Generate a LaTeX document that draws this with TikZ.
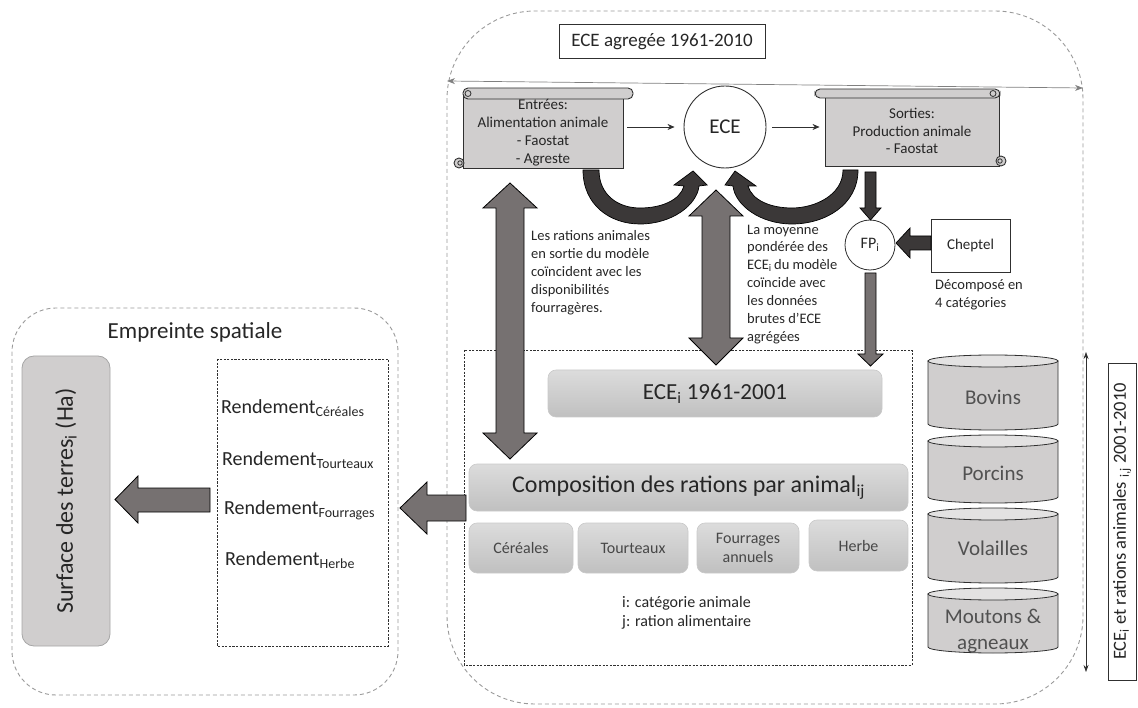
\documentclass[tikz,border=0pt]{standalone}
\usepackage{fontspec}
\setmainfont{Carlito}
\usetikzlibrary{arrows.meta}
\definecolor{scrollgray}{HTML}{D0CECE}
\definecolor{darkarrow}{HTML}{3B3838}
\definecolor{midarrow}{HTML}{767171}
\definecolor{txt}{HTML}{262626}
\definecolor{boxtop}{HTML}{DCDCDC}
\definecolor{boxbot}{HTML}{C0C0C0}
\definecolor{dashgray}{HTML}{9A9A9A}
\definecolor{lineblack}{HTML}{303030}
\tikzset{
  region/.style={draw=dashgray, line width=0.9pt, dash pattern=on 4pt off 3pt},
  innerdash/.style={draw=lineblack, line width=0.8pt, dash pattern=on 2.2pt off 1.4pt},
  scrollbody/.style={fill=scrollgray, draw=lineblack, line width=0.9pt, inner sep=0pt},
  scrolltext/.style={inner sep=0pt, align=center, text=txt, font=\fontsize{15}{17.8}\selectfont},
  scrollpart/.style={fill=scrollgray, draw=lineblack, line width=0.9pt},
  darkblock/.style={fill=darkarrow, draw=black, line width=0.7pt},
  midblock/.style={fill=midarrow, draw=black, line width=0.8pt},
  thinarrow/.style={draw=lineblack, line width=0.6pt, -{Stealth[length=7pt,width=6pt]}},
  graybox/.style={rounded corners=8pt, top color=boxtop, bottom color=boxbot, draw=boxbot!85!white, line width=0.6pt, inner sep=0pt, text=txt},
  smallbox/.style={graybox, font=\fontsize{16}{19}\selectfont, align=center, text=txt!85!white},
  annot/.style={inner sep=0pt, align=left, text=txt, font=\fontsize{14.5}{17.9}\selectfont},
  rend/.style={inner sep=0pt, text=txt, font=\fontsize{20}{24}\selectfont},
  cyl/.style={fill=scrollgray, draw=lineblack, line width=0.8pt},
  cyltop/.style={fill=scrollgray!60!white, draw=lineblack, line width=0.8pt},
  cyltext/.style={text=txt!80!white, font=\fontsize{21}{25}\selectfont, align=center, inner sep=0pt},
}
\begin{document}
\begin{tikzpicture}[x=1pt,y=-1pt]
\useasboundingbox (0,0) rectangle (1138,708);

% regions
\draw[region, rounded corners=88pt] (447,11) rectangle (1083,704);
\draw[region, rounded corners=44pt] (12,308) rectangle (398,695);
\node[text=txt, font=\fontsize{23}{27}\selectfont] (emp) at (195,332) {Empreinte spatiale};

% aggregated title
\node[draw=lineblack, line width=1pt, minimum width=206pt, minimum height=34pt, inner sep=0pt, text=txt, font=\fontsize{19}{23}\selectfont] (agg) at (662,42) {ECE agregée 1961-2010};

% top double arrow
\coordinate (tl) at (447,81);
\coordinate (tr) at (1083,88);
\draw[draw=gray, line width=0.7pt, {Stealth[length=8pt,width=6pt]}-{Stealth[length=8pt,width=6pt]}] (tl) -- (tr);

% Entrées scroll
\node[scrollbody, minimum width=160pt, minimum height=75pt] (entrees) at (543,130.5) {};
\filldraw[scrollpart, rounded corners=5pt] (463,88) rectangle (633,99);
\draw[lineblack, line width=0.8pt] (468,93.5) circle[radius=3pt];
\filldraw[scrollpart] (459,163) circle[radius=5pt];
\draw[lineblack, line width=0.8pt] (460,163) circle[radius=2.2pt];
\node[scrolltext] (entreestxt) at (543,132.5) {Entrées:\\Alimentation animale\\- Faostat\\- Agreste};

% Sorties scroll
\node[scrollbody, minimum width=174pt, minimum height=73pt] (sorties) at (912,129.5) {};
\filldraw[scrollpart, rounded corners=5pt] (815,89) rectangle (1000,98);
\draw[lineblack, line width=0.8pt] (993,93.5) circle[radius=3pt];
\filldraw[scrollpart] (1001,161) circle[radius=5pt];
\draw[lineblack, line width=0.8pt] (1000,161) circle[radius=2.2pt];
\node[scrolltext] (sortiestxt) at (912,131) {Sorties:\\Production animale\\- Faostat};

% ECE circle
\node[circle, draw=lineblack, line width=0.9pt, minimum size=82pt, inner sep=0pt, text=txt, font=\fontsize{21}{25}\selectfont] (ece) at (725,127) {ECE};
\draw[thinarrow, shorten <=4pt, shorten >=9pt] (entrees.east |- ece.west) -- (ece.west);
\draw[thinarrow, shorten <=6pt, shorten >=5pt] (ece.east) -- (sorties.west |- ece.east);

% curved arrows
\filldraw[darkblock] (583,170) .. controls (583,205) and (610,224) .. (640,224) .. controls (672,224) and (697,205) .. (699,186) -- (707,185) -- (693,171) -- (674,185) -- (684,186) .. controls (680,200) and (662,208) .. (640,208) .. controls (618,208) and (599,195) .. (599,170) -- cycle;
\filldraw[darkblock] (858,170) .. controls (858,205) and (825,224) .. (792,224) .. controls (760,224) and (735,205) .. (733,186) -- (725,185) -- (735,171) -- (756,186) -- (748,186) .. controls (752,200) and (770,208) .. (792,208) .. controls (815,208) and (843,195) .. (843,170) -- cycle;

% FP and Cheptel
\node[circle, draw=lineblack, line width=0.8pt, minimum size=50pt, inner sep=0pt, text=txt, font=\fontsize{16}{19}\selectfont] (fp) at (870,245) {FP\textsubscript{i}};
\node[draw=lineblack, line width=0.8pt, minimum width=79pt, minimum height=53pt, inner sep=0pt, text=txt, font=\fontsize{15}{18}\selectfont] (cheptel) at (970.5,245.5) {Cheptel\hspace{12pt}};
\node[annot, anchor=north west] (decomp) at (935,279.5) {Décomposé en\\4 catégories};

\filldraw[darkblock] (865,172) -- (876,172) -- (876,208) -- (881,208) -- (870.5,220) -- (860,208) -- (865,208) -- cycle;
\filldraw[darkblock] (931,236) -- (910,236) -- (910,228) -- (896,243) -- (910,258) -- (910,250) -- (931,250) -- cycle;

% annotations
\node[annot, anchor=north west] (ration) at (531,230.5) {Les rations animales\\en sortie du modèle\\coïncident avec les\\disponibilités\\fourragères.};
\node[annot, anchor=north west] (moy) at (747,224.5) {La moyenne\\pondérée des\\ECE\textsubscript{i}\,du modèle\\coïncide avec\\les données\\brutes d’ECE\\agrégées};

% inner dashed rect
\draw[innerdash] (464,350) rectangle (912,665);
\node[graybox, minimum width=334pt, minimum height=47pt, font=\fontsize{23}{27}\selectfont] (ecei) at (715,393.5) {ECE\textsubscript{i} 1961-2001};
\node[graybox, minimum width=439pt, minimum height=47pt, font=\fontsize{24}{28}\selectfont] (compo) at (688.5,487.5) {Composition des rations par animal\textsubscript{ij}};
\node[smallbox, minimum width=104pt, minimum height=50pt] (cer) at (521,548) {Céréales};
\node[smallbox, minimum width=110pt, minimum height=50pt] (tou) at (633,548) {Tourteaux};
\node[smallbox, minimum width=102pt, minimum height=50pt] (fou) at (748,548) {Fourrages\\annuels};
\node[smallbox, minimum width=99pt, minimum height=51pt] (her) at (858.5,545.5) {Herbe};
\node[inner sep=0pt, align=left, text=txt, font=\fontsize{16}{19.2}\selectfont, anchor=north west] (ij) at (622,596) {i: catégorie animale\\j: ration alimentaire};

% block arrows (gray)
\filldraw[midblock] (865,273) -- (876,273) -- (876,354) -- (883,354) -- (870.5,366) -- (858,354) -- (865,354) -- cycle;
\filldraw[midblock] (496,208) -- (483,208) -- (510,183) -- (537,208) -- (524,208) -- (524,433) -- (537,433) -- (510,459) -- (483,433) -- (496,433) -- cycle;
\filldraw[midblock] (702,216) -- (689,216) -- (716,190) -- (743,216) -- (730,216) -- (730,338) -- (743,338) -- (716,365) -- (689,338) -- (702,338) -- cycle;
\filldraw[midblock] (466,495) -- (427,495) -- (427,482) -- (400,508) -- (427,534) -- (427,521) -- (466,521) -- cycle;

% left part
\node[fill=scrollgray, draw=gray!70, line width=0.8pt, rounded corners=12pt, rotate=90, minimum width=290pt, minimum height=88pt, inner sep=0pt, text=txt, font=\fontsize{24}{28}\selectfont] (surf) at (66,501) {Surface des terres\textsubscript{i} (Ha)};
\draw[innerdash] (217,359) rectangle (388,646);
\node[rend, anchor=west] (r1) at (221,408) {Rendement\textsubscript{Céréales}};
\node[rend, anchor=west] (r2) at (222,460) {Rendement\textsubscript{Tourteaux}};
\node[rend, anchor=west] (r3) at (224,510) {Rendement\textsubscript{Fourrages}};
\node[rend, anchor=west] (r4) at (225,560) {Rendement\textsubscript{Herbe}};
\filldraw[midblock] (210,488) -- (138,488) -- (138,476) -- (115,499.5) -- (138,523) -- (138,512) -- (210,512) -- cycle;

% cylinders
\foreach \t/\b in {361/424, 441/497, 514/577, 594/647}{
  \filldraw[cyl] (928,\t) -- (928,\b) arc[start angle=180, end angle=360, x radius=65pt, y radius=6pt] -- (1058,\t) -- cycle;
  \filldraw[cyltop] (993,\t) ellipse[x radius=65pt, y radius=6pt];
}
\node[cyltext] (bov) at (993,397) {Bovins};
\node[cyltext] (por) at (993,473) {Porcins};
\node[cyltext] (vol) at (993,548) {Volailles};
\node[cyltext, font=\fontsize{21}{25.5}\selectfont] (mou) at (993,631) {Moutons \&\\agneaux};

% right scale
\coordinate (st) at (1086,352);
\coordinate (sb) at (1086,672);
\draw[draw=lineblack, line width=0.6pt, {Stealth[length=7pt,width=5pt]}-{Stealth[length=7pt,width=5pt]}] (st) -- (sb);
\node[draw=lineblack, line width=0.8pt, rotate=90, minimum width=317pt, minimum height=28pt, inner sep=0pt, text=txt, font=\fontsize{18.5}{22}\selectfont] (lab) at (1122,521.5) {ECE\textsubscript{i} et rations animales \textsubscript{i,j} 2001-2010};
\end{tikzpicture}
\end{document}
